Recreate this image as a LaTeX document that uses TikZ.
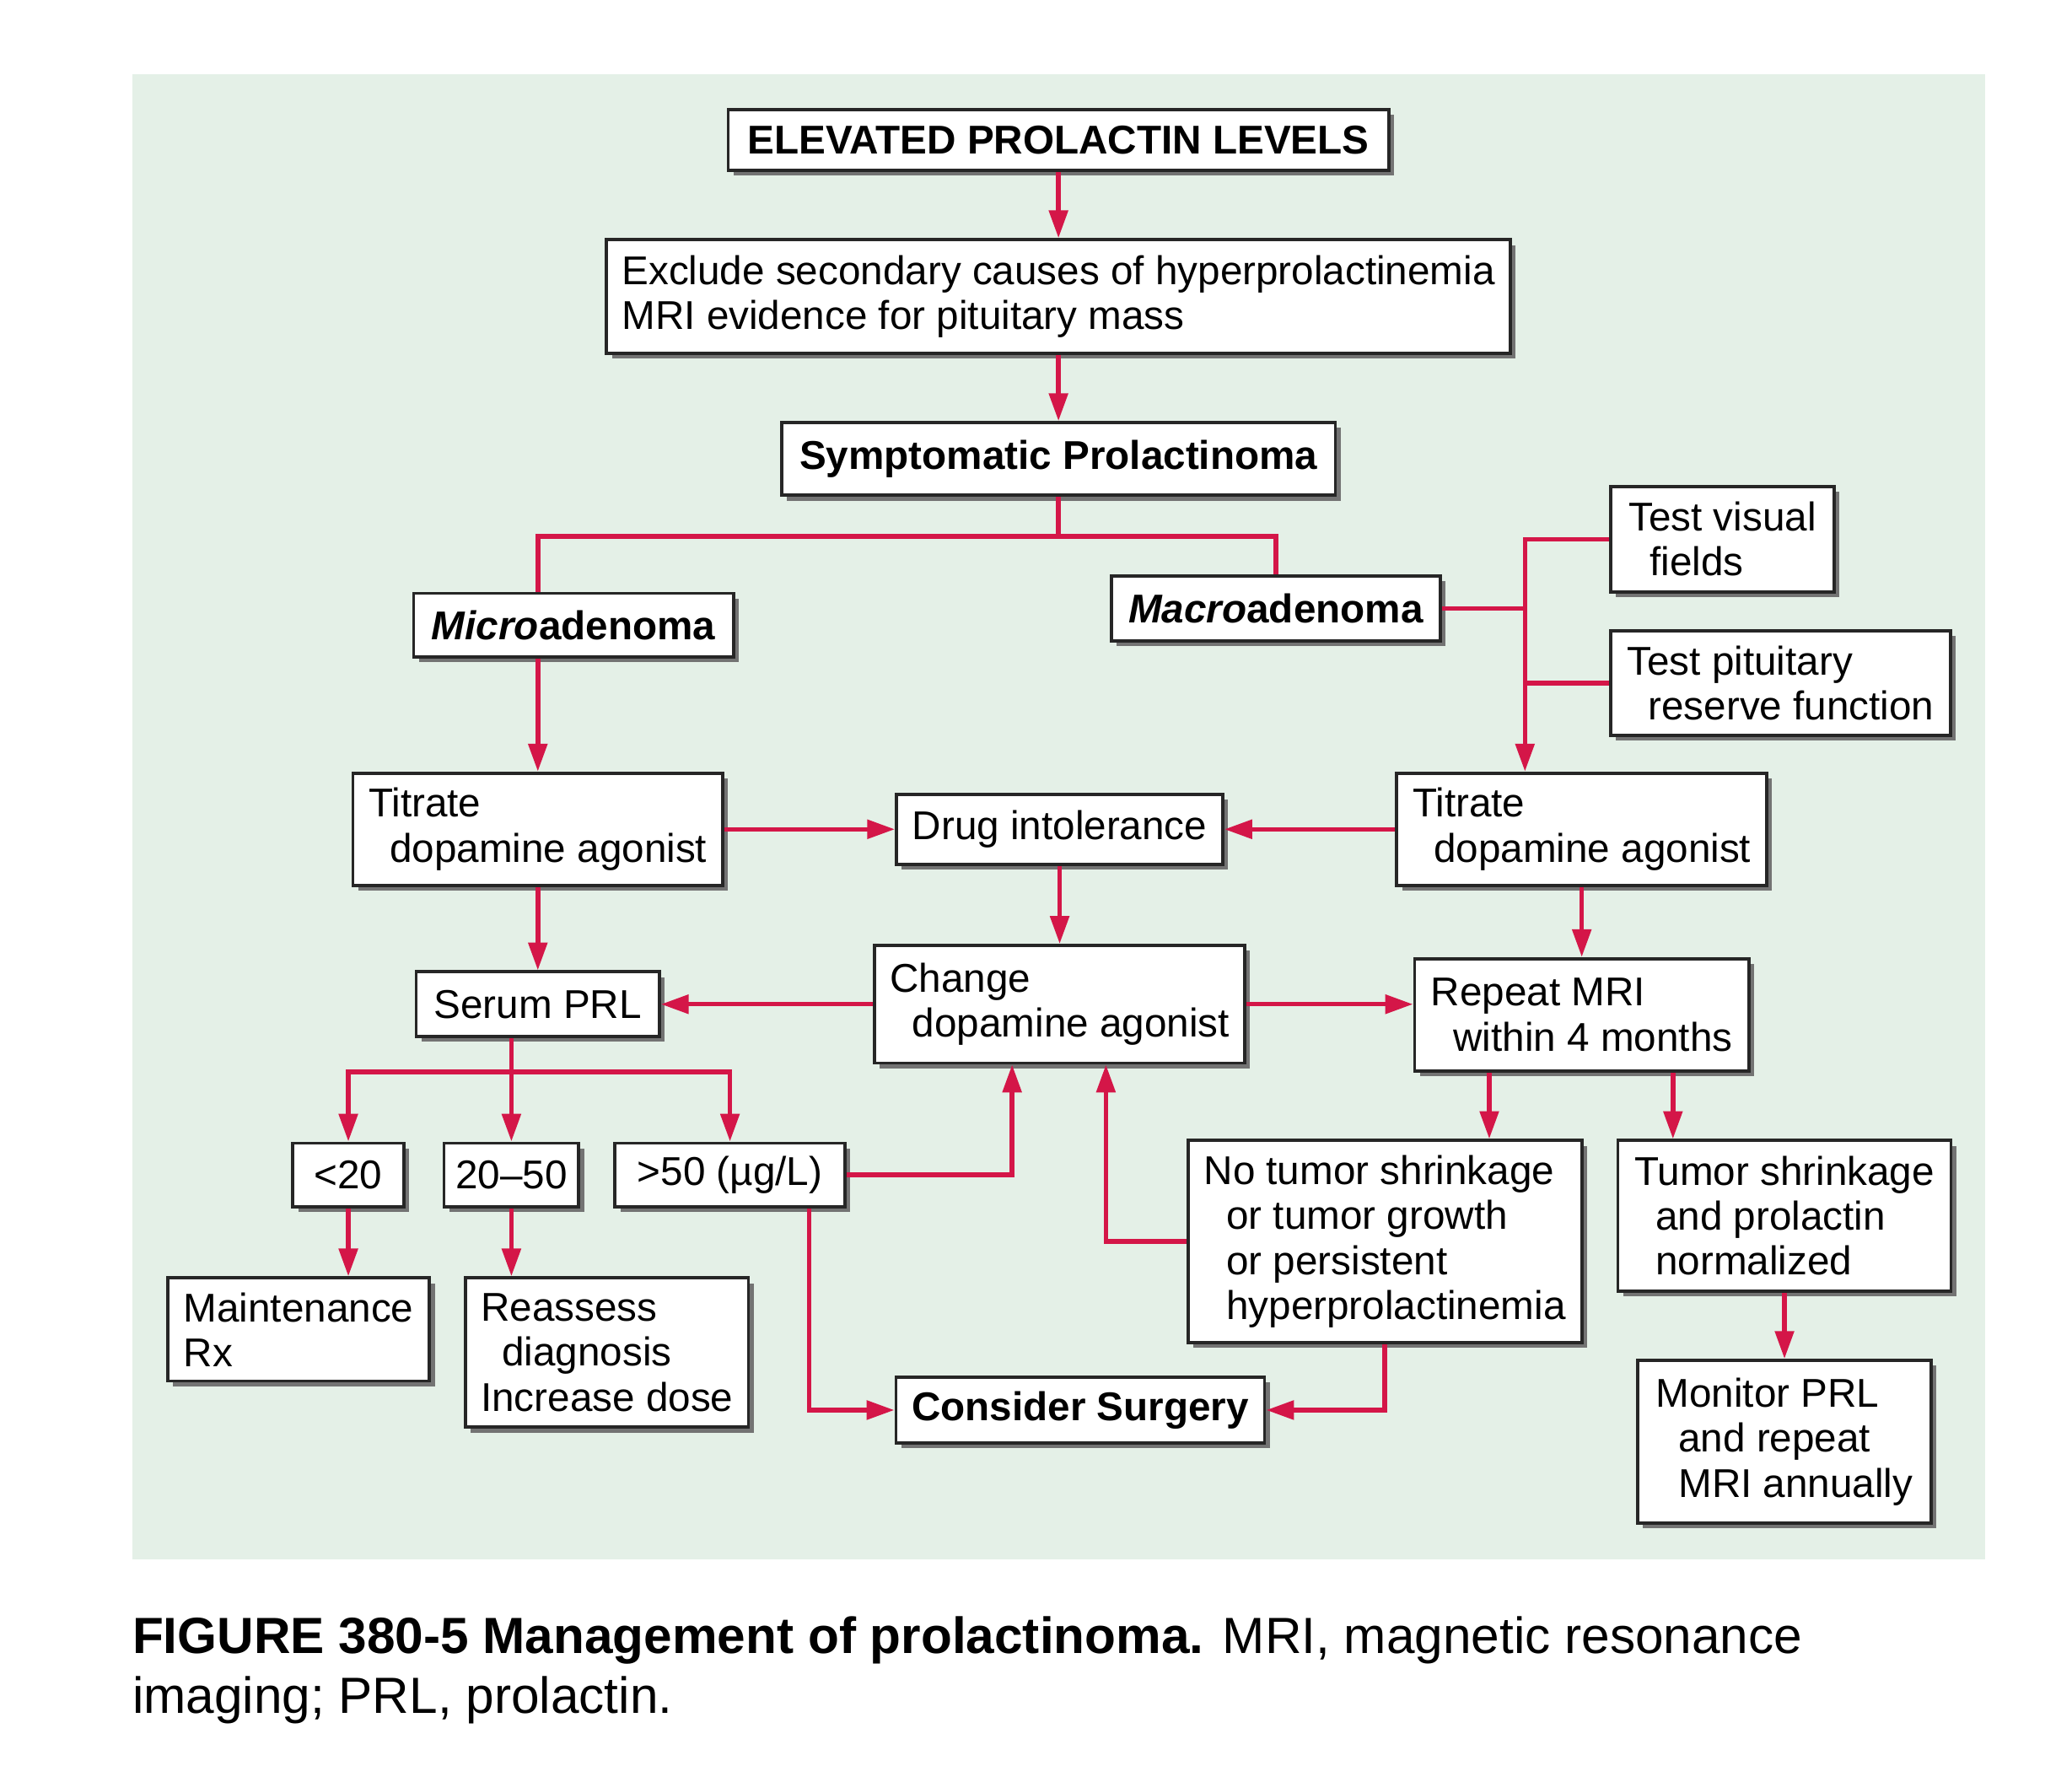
\documentclass[tikz,border=0pt]{standalone}
\usepackage{fontspec}
\setmainfont{Liberation Sans}
\usetikzlibrary{arrows.meta, positioning, shadows}
\definecolor{prlred}{RGB}{212, 22, 72}
\definecolor{mintbg}{RGB}{228, 240, 231}

\begin{document}
\begin{tikzpicture}[x=1pt, y=-1pt,
        box/.style={draw=black!85, line width=2.4pt, fill=white, align=left,
                    inner sep=4pt, font=\fontsize{30.4}{34}\selectfont,
                    drop shadow={shadow xshift=4pt, shadow yshift=-4pt,
                                 fill=black!55, opacity=1}},
        boldbox/.style={box, font=\fontsize{30.4}{34}\selectfont\bfseries},
        conn/.style={draw=prlred, line width=3.5pt},
        arrow/.style={conn, -{Triangle[length=21pt, width=14pt]}}
      ]
        \useasboundingbox (0,0) rectangle (1568,1336);
        \fill[mintbg] (100,56) rectangle (1502,1180);

        \node[boldbox, minimum width=500pt, minimum height=46pt] (elev) at (801,106) {ELEVATED PROLACTIN LEVELS};
        \node[box, below=50pt of elev, minimum width=684pt, minimum height=86pt] (excl)
          {Exclude secondary causes of hyperprolactinemia\\MRI evidence for pituitary mass};
        \node[boldbox, below=50pt of excl, minimum width=419pt, minimum height=55pt] (sympt) {Symptomatic Prolactinoma};

        \node[boldbox, minimum width=242pt, minimum height=48pt] (micro) at (434,473) {\textit{Micro}adenoma};
        \node[boldbox, minimum width=249pt, minimum height=49pt] (macro) at (965.5,460.5) {\textit{Macro}adenoma};
        \node[box, minimum width=169pt, minimum height=80pt] (visual) at (1303.5,408)
          {Test visual\\\hspace*{16pt}fields};
        \node[box, below=27pt of visual.south west, anchor=north west, minimum width=257pt, minimum height=79pt] (pitu)
          {Test pituitary\\\hspace*{16pt}reserve function};

        \node[box, minimum width=280pt, minimum height=85pt] (titrL) at (407,627.5)
          {Titrate\\\hspace*{16pt}dopamine agonist};
        \node[box, right=129pt of titrL, minimum width=247pt, minimum height=53pt] (intol) {Drug intolerance};
        \node[box, minimum width=280pt, minimum height=85pt] (titrR) at (1197,627.5)
          {Titrate\\\hspace*{16pt}dopamine agonist};

        \node[box, below=63pt of titrL, minimum width=184pt, minimum height=49pt] (serum) {Serum PRL};
        \node[box, below=59pt of intol, minimum width=280pt, minimum height=89pt] (change)
          {Change\\\hspace*{17pt}dopamine agonist};
        \node[box, below=53pt of titrR, minimum width=253pt, minimum height=85pt] (repeat)
          {Repeat MRI\\\hspace*{17pt}within 4 months};

        \node[box, minimum width=102pt, minimum height=48pt] (mid) at (387,889) {20--50};
        \node[box, left=28pt of mid, minimum width=84pt, minimum height=48pt] (lt20) {<20};
        \node[box, right=25pt of mid, minimum width=174pt, minimum height=48pt] (gt50) {>50 (µg/L)};

        \node[box, minimum width=198pt, minimum height=78pt] (maint) at (226,1006) {Maintenance\\Rx};
        \node[box, right=25pt of maint.north east, anchor=north west, minimum width=214pt, minimum height=113pt] (reass)
          {Reassess\\\hspace*{16pt}diagnosis\\Increase dose};

        \node[box, minimum width=298pt, minimum height=153pt] (notum) at (1048,939.5)
          {No tumor shrinkage\\\hspace*{17pt}or tumor growth\\\hspace*{17pt}or persistent\\\hspace*{17pt}hyperprolactinemia};
        \node[box, right=25pt of notum.north east, anchor=north west, minimum width=252pt, minimum height=114pt] (shrink)
          {Tumor shrinkage\\\hspace*{16pt}and prolactin\\\hspace*{16pt}normalized};
        \node[box, below=50pt of shrink, minimum width=222pt, minimum height=123pt] (monit)
          {Monitor PRL\\\hspace*{17pt}and repeat\\\hspace*{17pt}MRI annually};
        \node[boldbox, minimum width=279pt, minimum height=50pt] (surg) at (817.5,1067) {Consider Surgery};

        \node[anchor=base west, align=left, inner sep=0pt, font=\fontsize{38.5}{45.5}\selectfont] (caption) at (100,1296.5)
          {\textbf{FIGURE 380-5 Management of prolactinoma.} MRI, magnetic resonance\\imaging; PRL, prolactin.};

        \coordinate (fork) at (801,406);
        \coordinate (bus) at (1154,406);
        \coordinate (split) at (387,811);

        \draw[arrow] (elev) -- (excl);
        \draw[arrow] (excl) -- (sympt);
        \draw[conn] (sympt) -- (fork);
        \draw[conn] (titrL |- micro.north) |- (fork) -| (macro.north);
        \draw[arrow] (titrL |- micro.south) -- (titrL.north);
        \draw[conn] (macro.east) -- (macro.east -| bus);
        \draw[arrow] (visual.west) -| (bus |- titrR.north);
        \draw[conn] (pitu.west) -- (pitu.west -| bus);
        \draw[arrow] (titrL.east |- intol) -- (intol.west);
        \draw[arrow] (titrR.west |- intol) -- (intol.east);
        \draw[arrow] (intol) -- (change);
        \draw[arrow] (titrL.south) -- (titrL.south |- serum.north);
        \draw[arrow] (change.west) -- (change.west -| serum.east);
        \draw[arrow] (change.east) -- (change.east -| repeat.west);
        \draw[arrow] (titrR.south) -- (titrR.south |- repeat.north);
        \draw[conn] (serum.south -| mid) -- (split);
        \draw[arrow] (split) -| (lt20.north);
        \draw[arrow] (split) -- (mid.north);
        \draw[arrow] (split) -| (gt50.north);
        \draw[arrow] (lt20.south) -- (lt20.south |- maint.north);
        \draw[arrow] (mid.south) -- (mid.south |- reass.north);
        \draw[arrow] (gt50.east) -| ([xshift=-36pt]change.south);
        \draw[arrow] ([xshift=60pt]gt50.south) |- (surg.west);
        \draw[arrow] (notum.west) -| ([xshift=35pt]change.south);
        \draw[arrow] ([xshift=-70pt]repeat.south) -- ([xshift=-70pt]repeat.south |- notum.north);
        \draw[arrow] ([xshift=69pt]repeat.south) -- ([xshift=69pt]repeat.south |- shrink.north);
        \draw[arrow] (notum.south) |- (surg.east);
        \draw[arrow] (shrink.south) -- (shrink.south |- monit.north);
      \end{tikzpicture}
\end{document}
